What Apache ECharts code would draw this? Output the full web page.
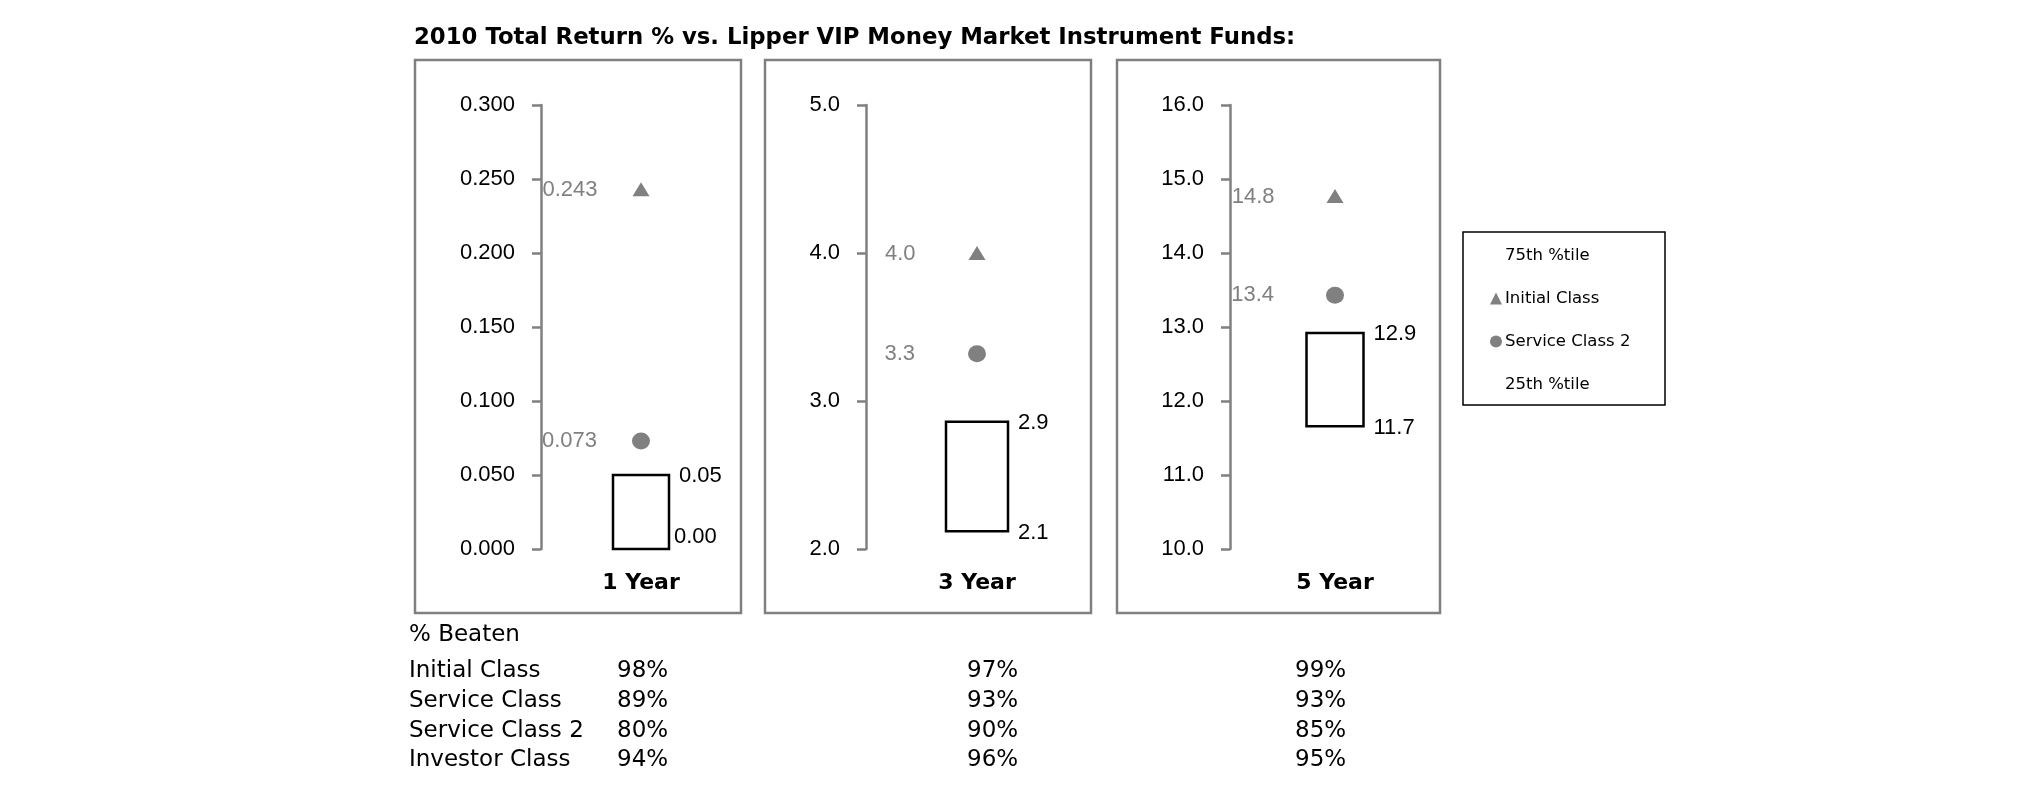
<!DOCTYPE html>
<html>
<head>
<meta charset="utf-8">
<script src="https://cdn.jsdelivr.net/npm/echarts@6/dist/echarts.min.js"></script>
<style>
html, body { margin: 0; padding: 0; background: #fff; }
#chart { width: 2025px; height: 806px; }
</style>
</head>
<body>
<div id="chart"></div>
<script>
// ============================
// Datos
// ============================
var periods = ["1 Year", "3 Year", "5 Year"];
var pct75 = [0.05, 2.86, 12.92];
var pct25 = [0.00, 2.12, 11.66];
var initialClass = [0.243, 4.0, 14.77];
var serviceClass2 = [0.073, 3.32, 13.43];

var yMin = [0, 2, 10];
var yMax = [0.3, 5, 16];
var yStep = [0.05, 1, 1];
var tickDecimals = [3, 1, 1];
var pointDecimals = [3, 1, 1];
var boxDecimals = [2, 1, 1];

var beatenRows = ["Initial Class", "Service Class", "Service Class 2", "Investor Class"];
var beaten1 = ["98%", "89%", "80%", "94%"];
var beaten3 = ["97%", "93%", "90%", "96%"];
var beaten5 = ["99%", "93%", "85%", "95%"];

// ============================
// Layout
// ============================
var gridLeft = [541, 866, 1230];
var gridWidth = [200, 222, 210];
var boxWidth = [56, 62, 57];
var panelLeft = [415, 765, 1117];
var panelRight = [741, 1091, 1440];
var pointLabelDist = [35, 53, 52];
var lowLabelShift = [[-5, -12], [0, 2], [0, 2]];
var GRAY = "#808080";
var NUM_FONT = "'Liberation Sans', sans-serif";
var NUM_SIZE = 22;
var TXT_FONT = "'DejaVu Sans', sans-serif";

var chart = echarts.init(document.getElementById("chart"));

var grids = [], xAxes = [], yAxes = [], series = [], graphics = [];

periods.forEach(function (p, i) {
    grids.push({ left: gridLeft[i], top: 105, width: gridWidth[i], height: 444 });
    xAxes.push({
        type: "category", gridIndex: i, data: [p],
        axisLine: { show: false }, axisTick: { show: false },
        axisLabel: { margin: 23, color: "#000", fontFamily: TXT_FONT, fontWeight: "bold", fontSize: 22 }
    });
    yAxes.push({
        type: "value", gridIndex: i, min: yMin[i], max: yMax[i], interval: yStep[i],
        splitLine: { show: false },
        axisLine: { show: true, lineStyle: { color: GRAY, width: 2.5 } },
        axisTick: { show: true, length: 9, lineStyle: { color: GRAY, width: 2.5 } },
        axisLabel: {
            margin: 26, color: "#000", fontFamily: NUM_FONT, fontSize: NUM_SIZE,
            formatter: function (v) { return v.toFixed(tickDecimals[i]); }
        }
    });

    // caja 25th - 75th con sus etiquetas
    series.push({
        name: "75th %tile", type: "custom", xAxisIndex: i, yAxisIndex: i,
        encode: { x: 0, y: [1, 2] },
        data: [[0, pct25[i], pct75[i]]],
        renderItem: function (params, api) {
            var top = api.coord([api.value(0), api.value(2)]);
            var bot = api.coord([api.value(0), api.value(1)]);
            var w = boxWidth[i];
            var font = NUM_SIZE + "px " + NUM_FONT;
            return {
                type: "group",
                children: [
                    { type: "rect", shape: { x: top[0] - w / 2, y: top[1], width: w, height: bot[1] - top[1] },
                      style: { fill: "#fff", stroke: "#000", lineWidth: 2.5 } },
                    { type: "text", x: top[0] + w / 2 + 10, y: top[1] + 1,
                      style: { text: api.value(2).toFixed(boxDecimals[i]), fill: "#000", font: font, verticalAlign: "middle" } },
                    { type: "text", x: top[0] + w / 2 + 10 + lowLabelShift[i][0], y: bot[1] + lowLabelShift[i][1],
                      style: { text: api.value(1).toFixed(boxDecimals[i]), fill: "#000", font: font, verticalAlign: "middle" } }
                ]
            };
        }
    });
    // solo para la leyenda
    series.push({ name: "25th %tile", type: "scatter", xAxisIndex: i, yAxisIndex: i, data: [] });
    series.push({
        name: "Initial Class", type: "scatter", xAxisIndex: i, yAxisIndex: i,
        data: [[0, initialClass[i]]], symbol: "triangle", symbolSize: [17, 14],
        itemStyle: { color: GRAY, opacity: 1 },
        label: {
            show: true, position: "left", distance: pointLabelDist[i], offset: [0, 1],
            color: GRAY, fontFamily: NUM_FONT, fontSize: NUM_SIZE,
            formatter: function (d) { return d.value[1].toFixed(pointDecimals[i]); }
        }
    });
    series.push({
        name: "Service Class 2", type: "scatter", xAxisIndex: i, yAxisIndex: i,
        data: [[0, serviceClass2[i]]], symbol: "circle", symbolSize: [18, 17],
        itemStyle: { color: GRAY, opacity: 1 },
        label: {
            show: true, position: "left", distance: pointLabelDist[i],
            color: GRAY, fontFamily: NUM_FONT, fontSize: NUM_SIZE,
            formatter: function (d) { return d.value[1].toFixed(pointDecimals[i]); }
        }
    });

    graphics.push({
        type: "rect", z: -1,
        shape: { x: panelLeft[i], y: 60, width: panelRight[i] - panelLeft[i], height: 553 },
        style: { fill: "none", stroke: GRAY, lineWidth: 2.5 }
    });
});

// caja de la leyenda
graphics.push({
    type: "rect", shape: { x: 1463, y: 232, width: 202, height: 173 },
    style: { fill: "none", stroke: "#000", lineWidth: 1.5 }
});

// tabla % Beaten
var txt = function (s, x, y) {
    return { type: "text", x: x, y: y,
             style: { text: s, fill: "#000", font: "23px " + TXT_FONT, verticalAlign: "middle" } };
};
graphics.push(txt("% Beaten", 409, 635));
var rowY = [671, 701, 731, 760];
beatenRows.forEach(function (r, k) {
    graphics.push(txt(r, 409, rowY[k]));
    graphics.push(txt(beaten1[k], 617, rowY[k]));
    graphics.push(txt(beaten3[k], 967, rowY[k]));
    graphics.push(txt(beaten5[k], 1295, rowY[k]));
});

chart.setOption({
    animation: false,
    title: {
        text: "2010 Total Return % vs. Lipper VIP Money Market Instrument Funds:",
        left: 414, top: 27, padding: 0,
        textStyle: { color: "#000", fontFamily: TXT_FONT, fontWeight: "bold", fontSize: 22.8 }
    },
    legend: {
        orient: "vertical", left: 1490, top: 247, itemWidth: 12, itemHeight: 12, itemGap: 26,
        selectedMode: false, padding: 0,
        textStyle: { color: "#000", fontFamily: TXT_FONT, fontSize: 16.5, padding: [0, 0, 0, -2] },
        data: [
            { name: "75th %tile", icon: "rect", itemStyle: { opacity: 0 } },
            { name: "Initial Class", icon: "triangle", itemStyle: { color: GRAY, opacity: 1 } },
            { name: "Service Class 2", icon: "circle", itemStyle: { color: GRAY, opacity: 1 } },
            { name: "25th %tile", icon: "rect", itemStyle: { opacity: 0 } }
        ]
    },
    grid: grids,
    xAxis: xAxes,
    yAxis: yAxes,
    series: series,
    graphic: graphics
});
</script>
</body>
</html>
